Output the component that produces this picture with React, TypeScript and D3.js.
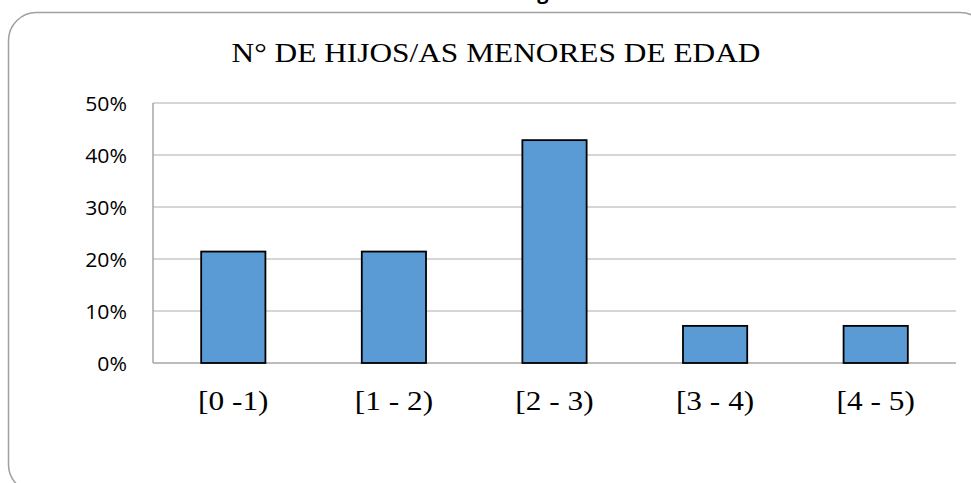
import React from "react";
import { scaleBand, scaleLinear } from "d3";

const categories = ["[0 -1)", "[1 - 2)", "[2 - 3)", "[3 - 4)", "[4 - 5)"];
const shares = [0.2143, 0.2143, 0.4286, 0.0714, 0.0714];
const yTicks = [0, 0.1, 0.2, 0.3, 0.4, 0.5];
const title = "N° DE HIJOS/AS MENORES DE EDAD";

const App = () => {
  const width = 971;
  const height = 483;

  const plot = { left: 153, right: 956, top: 103, bottom: 363 };
  const stretch = 1.12; // source image is a bit wider than tall

  const xScale = scaleBand<string>()
    .domain(categories)
    .range([plot.left, plot.right])
    .padding(0);
  const barWidth = xScale.bandwidth() * 0.4;

  const yScale = scaleLinear().domain([0, 0.5]).range([plot.bottom, plot.top]);

  const serif = "'Liberation Serif', 'Times New Roman', serif";
  const sans = "'Open Sans', 'Liberation Sans', sans-serif";

  return (
    <svg
      width={width}
      height={height}
      style={{ position: "absolute", left: 0, top: 0, background: "#fff" }}
    >
      {/* caption above the frame, cut off by the top edge as in the source */}
      <text x={543} y={-1} textAnchor="middle" fontFamily={sans} fontWeight="bold" fontSize={20}>
        g
      </text>

      <rect
        x={8.5}
        y={12.5}
        width={979.5}
        height={480}
        rx={28}
        ry={28}
        fill="#fff"
        stroke="#a0a0a0"
        strokeWidth={1.5}
      />

      <text
        transform={`translate(496,61.5) scale(${stretch},1)`}
        textAnchor="middle"
        fontFamily={serif}
        fontSize={28}
        fill="#000"
      >
        {title}
      </text>

      {yTicks.map((t) => (
        <g key={t}>
          <line
            x1={plot.left}
            x2={plot.right}
            y1={yScale(t)}
            y2={yScale(t)}
            stroke={t === 0 ? "#a6a6a6" : "#c8c8c8"}
            strokeWidth={1.5}
          />
          <text
            transform={`translate(127,${yScale(t)}) scale(1.06,1)`}
            textAnchor="end"
            dominantBaseline="central"
            fontFamily={sans}
            fontSize={20}
            fill="#000"
          >
            {`${Math.round(t * 100)}%`}
          </text>
        </g>
      ))}

      <line
        x1={plot.left}
        x2={plot.left}
        y1={plot.top}
        y2={plot.bottom}
        stroke="#a6a6a6"
        strokeWidth={1.5}
      />

      {categories.map((c, i) => {
        const cx = (xScale(c) ?? 0) + xScale.bandwidth() / 2;
        return (
          <g key={c}>
            <rect
              x={cx - barWidth / 2}
              y={yScale(shares[i])}
              width={barWidth}
              height={plot.bottom - yScale(shares[i])}
              fill="#5b9bd5"
              stroke="#000"
              strokeWidth={1.8}
            />
            <text
              transform={`translate(${cx},409.5) scale(${stretch},1)`}
              textAnchor="middle"
              fontFamily={serif}
              fontSize={28}
              fill="#000"
            >
              {c}
            </text>
          </g>
        );
      })}
    </svg>
  );
};

export default App;
